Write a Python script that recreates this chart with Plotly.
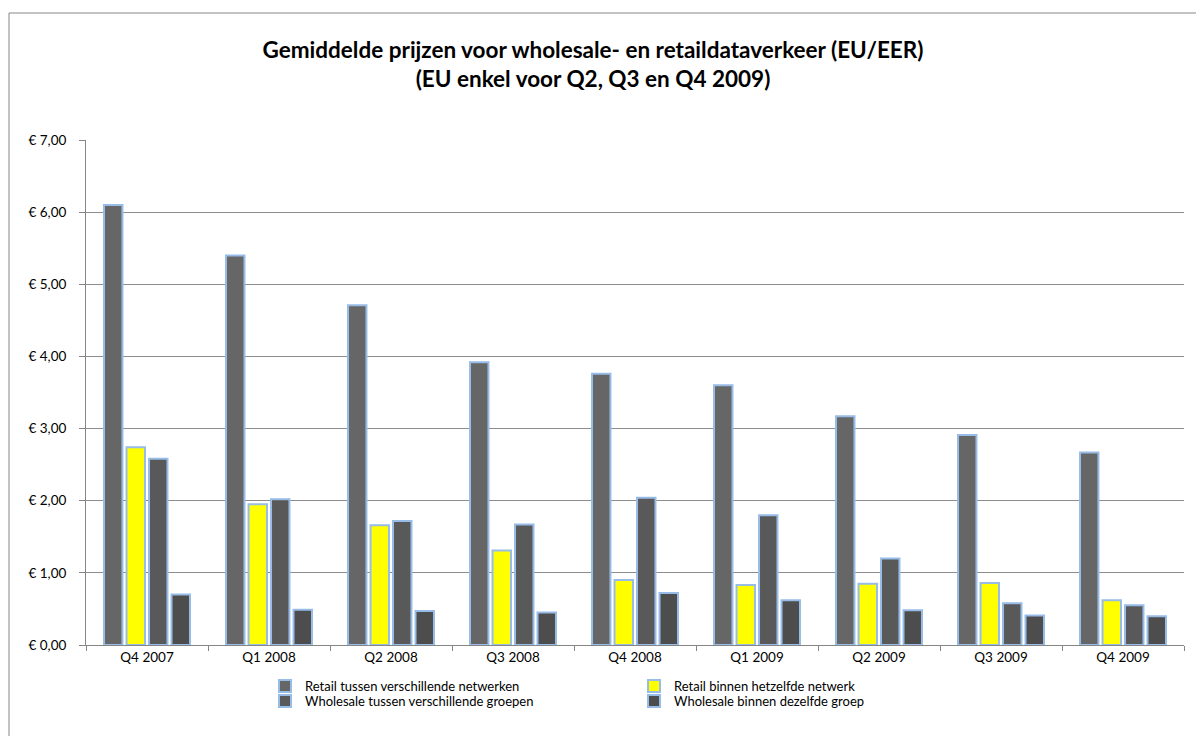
import plotly.graph_objects as go

# kwartalen en gemiddelde prijzen (EUR per MB)
kwartalen = ["Q4 2007", "Q1 2008", "Q2 2008", "Q3 2008", "Q4 2008",
             "Q1 2009", "Q2 2009", "Q3 2009", "Q4 2009"]

retail_tussen = [6.10, 5.40, 4.71, 3.92, 3.76, 3.60, 3.17, 2.91, 2.67]
retail_binnen = [2.74, 1.95, 1.66, 1.31, 0.90, 0.83, 0.85, 0.86, 0.62]
wholesale_tussen = [2.58, 2.02, 1.72, 1.67, 2.04, 1.80, 1.20, 0.58, 0.55]
wholesale_binnen = [0.70, 0.49, 0.47, 0.45, 0.72, 0.62, 0.48, 0.41, 0.40]

reeksen = [
    ("Retail tussen verschillende netwerken", retail_tussen, "#666666", "legend"),
    ("Retail binnen hetzelfde netwerk", retail_binnen, "#FFFF00", "legend"),
    ("Wholesale tussen verschillende groepen", wholesale_tussen, "#595959", "legend2"),
    ("Wholesale binnen dezelfde groep", wholesale_binnen, "#4D4D4D", "legend2"),
]

FONT = "Lato, 'Open Sans', sans-serif"

# plotgebied in pixels (voor omrekenen van kader en legenda)
L, R, T, B = 86, 12, 140, 91
W, H = 1196, 736
pw, ph = W - L - R, H - T - B


def px_x(x):
    return (x - L) / pw


def px_y(y):
    return (H - B - y) / ph


fig = go.Figure()
for naam, waarden, kleur, leg in reeksen:
    fig.add_trace(go.Bar(
        x=kwartalen,
        y=waarden,
        name=naam,
        legend=leg,
        marker=dict(color=kleur, line=dict(color="#97BCE8", width=2)),
    ))

legenda = dict(
    orientation="h", xanchor="left", yanchor="top",
    entrywidth=324, entrywidthmode="pixels", itemwidth=30,
    font=dict(size=13), bgcolor="rgba(0,0,0,0)", tracegroupgap=0,
)

fig.update_layout(
    width=W, height=H,
    margin=dict(l=L, r=R, t=T, b=B),
    paper_bgcolor="white",
    plot_bgcolor="white",
    separators=",.",
    barmode="group",
    bargap=0.262,
    bargroupgap=0.18,
    font=dict(family=FONT, size=13.5, color="black"),
    title=dict(
        text="Gemiddelde prijzen voor wholesale- en retaildataverkeer (EU/EER)<br>(EU enkel voor Q2, Q3 en Q4 2009)",
        x=593 / W, xref="container", xanchor="center",
        y=1 - 58 / H, yref="container", yanchor="middle",
        font=dict(family=FONT, size=22.5, color="black", weight="bold"),
    ),
    legend=dict(legenda, x=px_x(265), y=px_y(671)),
    legend2=dict(legenda, x=px_x(265), y=px_y(686)),
    showlegend=True,
)

fig.update_xaxes(
    showgrid=False,
    showline=True, linecolor="#868686", linewidth=1,
    ticks="outside", tickson="boundaries", ticklen=5, tickcolor="#868686",
    tickfont=dict(size=13.5),
)
fig.update_yaxes(
    range=[0, 7], dtick=1,
    tickprefix="€ ", tickformat=".2f",
    showgrid=True, gridcolor="#8C8C8C", gridwidth=1,
    showline=True, linecolor="#868686", linewidth=1,
    ticks="outside", ticklen=6, tickcolor="#868686",
    ticklabelstandoff=10,
    tickfont=dict(size=13.5),
    zeroline=False,
)

# buitenkader van de grafiek
fig.add_shape(
    type="rect", xref="paper", yref="paper",
    x0=px_x(9), x1=px_x(1200), y0=px_y(740), y1=px_y(13),
    line=dict(color="#868686", width=1), layer="below",
)

# standaardmarge van de pagina weghalen, zodat de grafiek op (0,0) begint
fig.write_html("out.html", config={"displayModeBar": False},
               post_script="document.body.style.margin='0';")
